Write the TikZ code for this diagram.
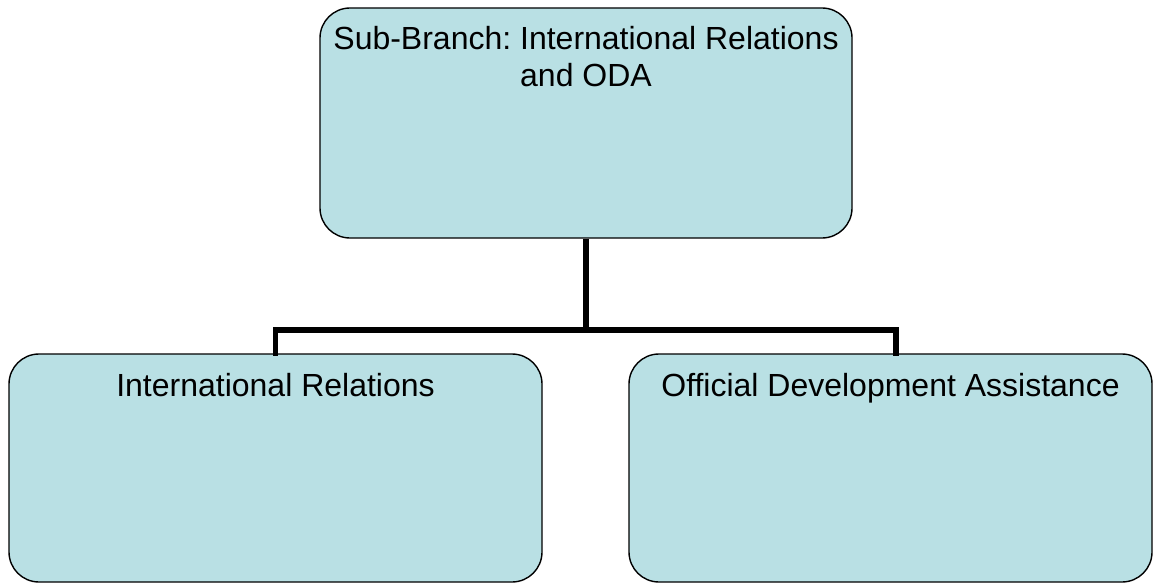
\documentclass[tikz,border=0pt]{standalone}
\usepackage{fontspec}
\setmainfont{Liberation Sans}
\usetikzlibrary{calc}
\frenchspacing
\definecolor{boxfill}{RGB}{185,224,228}
\tikzset{
  orgbox/.style={draw=black, line width=1.4pt, fill=boxfill, rounded corners=30pt,
    rectangle, inner sep=0pt},
  orgtext/.style={anchor=base, align=center, inner sep=0pt,
    font=\fontsize{32}{37}\selectfont},
  conn/.style={draw=black, line width=5.5pt}
}
\begin{document}
\begin{tikzpicture}[x=1pt,y=-1pt]
  \useasboundingbox (0,0) rectangle (1155,583);
  % boxes
  \node[orgbox, minimum width=532pt, minimum height=230pt] (top) at (586,123) {};
  \node[orgbox, minimum width=533pt, minimum height=228pt] (ir) at (275.5,468) {};
  \node[orgbox, minimum width=523pt, minimum height=228pt] (oda) at (890.5,468) {};
  % connectors
  \coordinate (bus) at (586,330);
  \coordinate (odadrop) at ($(oda.north)+(5.5,0)$);
  \draw[conn] (top.south) -- (bus);
  \draw[conn, line cap=rect] (ir.north) |- (bus) -| (odadrop);
  % labels (base anchor sits on the last line of a multi-line node)
  \node[orgtext] (toptext) at ($(top.north)+(0,79)$) {Sub-Branch: International Relations\\and ODA};
  \node[orgtext] (irtext) at ($(ir.north)+(0,43)$) {International Relations};
  \node[orgtext] (odatext) at ($(oda.north)+(0,43)$) {Official Development Assistance};
\end{tikzpicture}
\end{document}
